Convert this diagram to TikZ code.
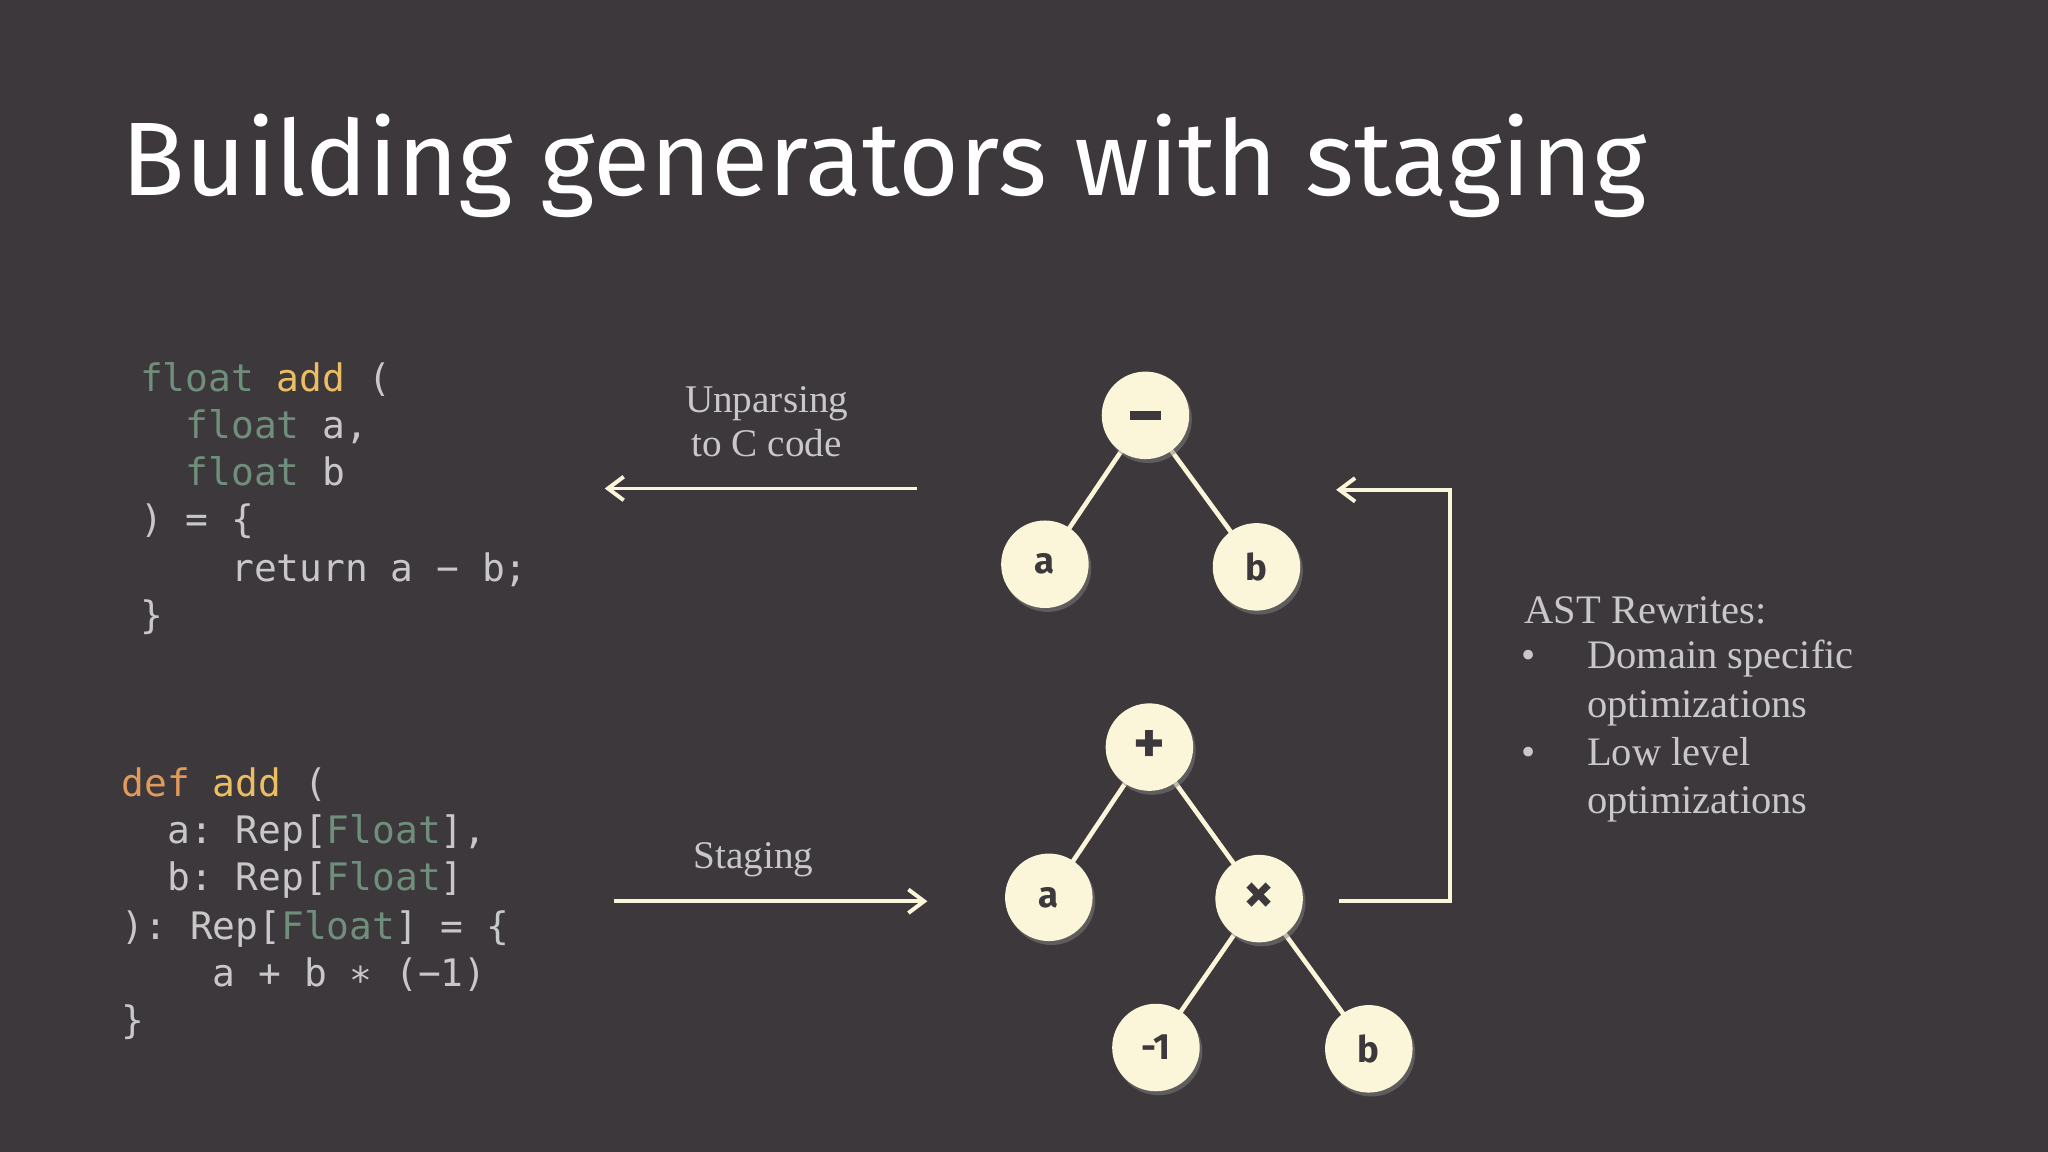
\documentclass[tikz,border=0pt]{standalone}
\usepackage{fontspec}
\setmainfont{Liberation Serif}
\setsansfont{Fira Sans}
\setmonofont{DejaVu Sans Mono}
\usetikzlibrary{arrows.meta,shadows}
\definecolor{bg}{HTML}{3D383B}
\definecolor{cream}{HTML}{FBF6D9}
\definecolor{ctext}{HTML}{C8C8C8}
\definecolor{cgreen}{HTML}{6F8F7C}
\definecolor{corange}{HTML}{E09A5C}
\definecolor{cyellow}{HTML}{EBBE64}
\tikzset{
  code/.style={anchor=base west,inner sep=0,text=ctext,font=\ttfamily\fontsize{29}{29}\selectfont},
  ast/.style={circle,fill=cream,minimum size=67pt,inner sep=0,text=bg,font=\sffamily\bfseries\fontsize{28}{28}\selectfont,drop shadow={opacity=0.5,shadow xshift=2pt,shadow yshift=-3pt}},
  big/.style={font=\sffamily\bfseries\fontsize{46}{46}\selectfont},
  edge/.style={draw=cream,line width=3.5pt},
  arr/.style={draw=cream,line width=3pt,-{Straight Barb[length=12pt,width=18pt,line width=3pt]}},
  lbl/.style={text=ctext,font=\fontsize{30}{34}\selectfont,align=center},
  rt/.style={anchor=base west,inner sep=0,text=ctext,font=\fontsize{31}{31}\selectfont},
}
\begin{document}
\begin{tikzpicture}[x=1pt,y=-1pt]
\fill[bg] (0,0) rectangle (1568,882);
\useasboundingbox (0,0) rectangle (1568,882);
\node[anchor=base west,inner sep=0,text=white,font=\sffamily\fontsize{80}{80}\selectfont] (title) at (93,150) {Building generators with staging};
% code 1
\node[code] (c1) at (107,300) {\textcolor{cgreen}{float} \textcolor{cyellow}{add} (};
\node[code] (c2) at (107,336) {~~\textcolor{cgreen}{float} a,};
\node[code] (c3) at (107,372) {~~\textcolor{cgreen}{float} b};
\node[code] (c4) at (107,408) {) = \{};
\node[code] (c5) at (107,445) {~~~~return a − b;};
\node[code] (c6) at (107,481) {\}};
% code 2
\node[code] (d1) at (93,610) {\textcolor{corange}{def} \textcolor{cyellow}{add} (};
\node[code] (d2) at (93,646) {~~a: Rep[\textcolor{cgreen}{Float}],};
\node[code] (d3) at (93,682) {~~b: Rep[\textcolor{cgreen}{Float}]};
\node[code] (d4) at (93,719) {): Rep[\textcolor{cgreen}{Float}] = \{};
\node[code] (d5) at (93,755) {~~~~a + b ∗ (−1)};
\node[code] (d6) at (93,791) {\}};
% arrows
\node[lbl] (l1) at (587,323) {Unparsing\\to C code};
\coordinate (u1) at (702,374); \coordinate (u2) at (463,374);
\draw[arr] (u1) -- (u2);
\node[lbl] (l2) at (577,658) {Staging};
\coordinate (s1) at (470,690); \coordinate (s2) at (710,690);
\draw[arr] (s1) -- (s2);
% tree coordinates and edges
\coordinate (cm) at (877,318); \coordinate (ca1) at (800,432); \coordinate (cb1) at (962,434);
\coordinate (cp) at (880,572); \coordinate (ca2) at (803,687); \coordinate (ct) at (964,688);
\coordinate (cn1) at (885,802); \coordinate (cb2) at (1048,803);
\draw[edge] (cm) -- (ca1); \draw[edge] (cm) -- (cb1);
\draw[edge] (cp) -- (ca2); \draw[edge] (cp) -- (ct);
\draw[edge] (ct) -- (cn1); \draw[edge] (ct) -- (cb2);
\node[ast] (m) at (cm) {\rule{24pt}{7pt}};
\node[ast] (a1) at (ca1) {a};
\node[ast] (b1) at (cb1) {b};
\node[ast,big] (p) at (cp) {+};
\node[ast] (a2) at (ca2) {a};
\node[ast,big] (t) at (ct) {×};
\node[ast] (n1) at (cn1) {-1};
\node[ast] (b2) at (cb2) {b};
% rewrite bracket
\coordinate (r1) at (1025,690); \coordinate (r2) at (1110,690);
\coordinate (r3) at (1110,375); \coordinate (r4) at (1023,375);
\draw[arr] (r1) -- (r2) -- (r3) -- (r4);
% text
\node[rt] (ast) at (1167,477) {AST Rewrites:};
\node[rt] (bu1) at (1165,512) {•};
\node[rt] (t1) at (1215,512) {Domain specific};
\node[rt] (t2) at (1215,549) {optimizations};
\node[rt] (bu2) at (1165,586) {•};
\node[rt] (t3) at (1215,586) {Low level};
\node[rt] (t4) at (1215,623) {optimizations};
\end{tikzpicture}
\end{document}
